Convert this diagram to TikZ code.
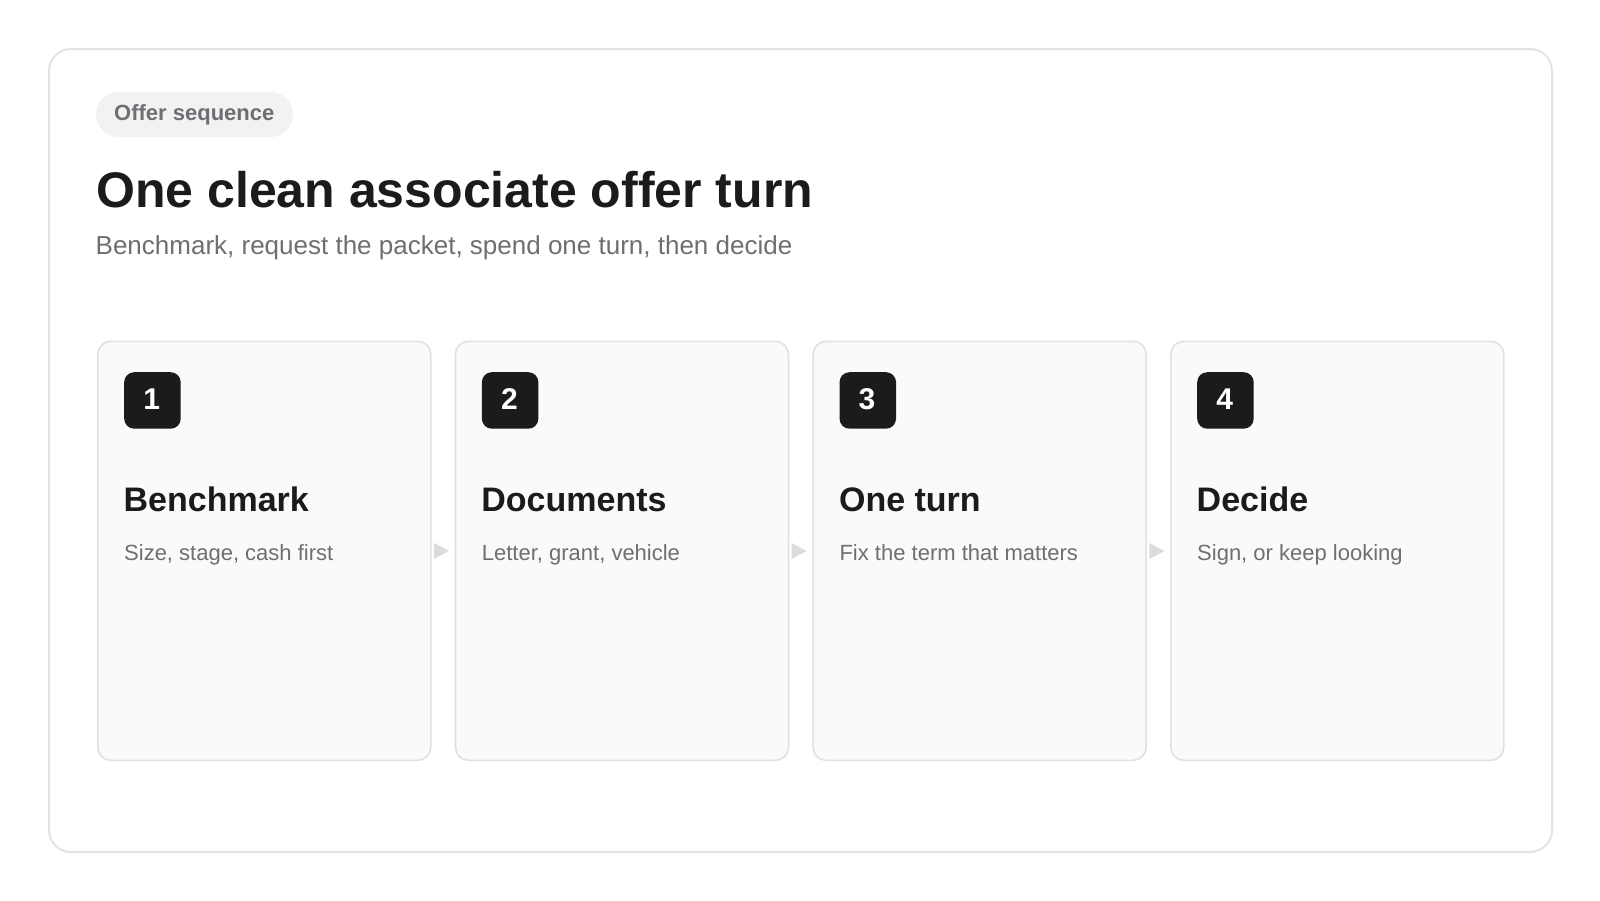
\documentclass[tikz,border=0pt]{standalone}
\usepackage{fontspec}
\setmainfont{Liberation Sans}
\usetikzlibrary{calc}
\definecolor{ink}{HTML}{1B1B1D}
\definecolor{muted}{HTML}{6E6E73}
\definecolor{pillbg}{HTML}{F2F2F3}
\definecolor{cardbg}{HTML}{FAFAFA}
\definecolor{cardline}{HTML}{E1E1E3}
\definecolor{outerline}{HTML}{E3E3E5}
\definecolor{arrowc}{HTML}{DCDCDE}
\tikzset{
  txt/.style={inner sep=0pt, anchor=base west},
  outercard/.style={draw=outerline, line width=2pt, fill=white, rounded corners=22pt},
  pill/.style={fill=pillbg, rounded corners=22.5pt},
  stepcard/.style={draw=cardline, line width=1.6pt, fill=cardbg, rounded corners=13pt, inner sep=0pt, anchor=north west, minimum width=333pt, minimum height=419pt},
  badge/.style={fill=ink, rounded corners=10pt, inner sep=0pt, minimum width=56.5pt, minimum height=56.5pt, anchor=north west, text=white, font=\fontsize{30}{36}\selectfont\bfseries},
  chev/.style={fill=arrowc},
}
\begin{document}
\begin{tikzpicture}[x=1pt,y=-1pt]
\useasboundingbox (0,0) rectangle (1600,900);
\fill[white] (0,0) rectangle (1600,900);
\draw[outercard] (49,49) rectangle (1552,852);
\fill[pill] (96,92) rectangle (293,137);
\node[txt, text=muted, font=\fontsize{22}{26}\selectfont\bfseries] (tag) at (114,120) {Offer sequence};
\node[txt, text=ink, font=\fontsize{50}{60}\selectfont\bfseries] (title) at (96,207.5) {One clean associate offer turn};
\node[txt, text=muted, font=\fontsize{26}{32}\selectfont] (subtitle) at (95.5,254) {Benchmark, request the packet, spend one turn, then decide};
\foreach \i/\head/\sub in {1/Benchmark/{Size, stage, cash first}, 2/Documents/{Letter, grant, vehicle}, 3/One turn/{Fix the term that matters}, 4/Decide/{Sign, or keep looking}}{
  \pgfmathsetmacro{\L}{97+357.67*(\i-1)}
  \node[stepcard] (card\i) at (\L,340.5) {};
  \node[badge] (badge\i) at (\L+27,372) {\hspace*{-1.5pt}\raisebox{2pt}{\i}};
  \node[txt, text=ink, font=\fontsize{34}{40}\selectfont\bfseries] (head\i) at (\L+26.5,511) {\head};
  \node[txt, text=muted, font=\fontsize{22}{27}\selectfont] (sub\i) at (\L+27,560) {\sub};
}
\foreach \i in {1,2,3}{
  \pgfmathsetmacro{\L}{97+357.67*(\i-1)}
  \fill[chev] (\L+337,543) -- (\L+352,551) -- (\L+337,559) -- cycle;
}
\end{tikzpicture}
\end{document}
